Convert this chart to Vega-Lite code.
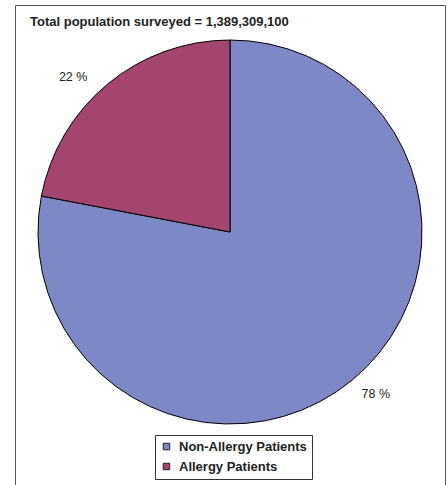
{
  "$schema": "https://vega.github.io/schema/vega-lite/v6.json",
  "width": 430,
  "height": 480,
  "autosize": {"type": "none"},
  "padding": {"left": 15, "top": 5, "right": 3, "bottom": 0},
  "background": "white",
  "config": {
    "font": "Liberation Sans"
  },
  "view": {"stroke": "#555555", "strokeWidth": 1},
  "title": {
    "text": "Total population surveyed = 1,389,309,100",
    "anchor": "start",
    "frame": "group",
    "orient": "top",
    "baseline": "alphabetic",
    "offset": 0,
    "dx": 15,
    "dy": 34,
    "font": "Liberation Sans",
    "fontSize": 13,
    "fontWeight": "bold",
    "color": "#222222"
  },
  "data": {
    "values": [
      {"category": "Non-Allergy Patients", "value": 78},
      {"category": "Allergy Patients", "value": 22}
    ]
  },
  "transform": [
    {"calculate": "datum.value + ' %'", "as": "label"},
    {
      "stack": "value",
      "groupby": [],
      "sort": [{"field": "category", "order": "descending"}],
      "as": ["v0", "v1"]
    },
    {"calculate": "(datum.v0 + datum.v1) / 2", "as": "vmid"}
  ],
  "layer": [
    {
      "mark": {
        "type": "arc",
        "outerRadius": 192,
        "y": {"expr": "height/2 - 13"},
        "stroke": "black",
        "strokeWidth": 1
      },
      "encoding": {
        "theta": {"field": "v0", "type": "quantitative", "scale": {"domain": [0, 100]}},
        "theta2": {"field": "v1"},
        "color": {
          "field": "category",
          "type": "nominal",
          "scale": {
            "domain": ["Non-Allergy Patients", "Allergy Patients"],
            "range": ["#7F88C7", "#A3456F"]
          },
          "legend": {
            "title": null,
            "orient": "none",
            "legendX": 140,
            "legendY": 430,
            "direction": "vertical",
            "strokeColor": "#333333",
            "padding": 5,
            "symbolType": "square",
            "symbolSize": 42,
            "symbolStrokeColor": "#222222",
            "symbolStrokeWidth": 1,
            "labelFont": "Liberation Sans",
            "labelFontSize": 13,
            "labelFontWeight": "bold",
            "labelColor": "#222222",
            "labelOffset": 6,
            "rowPadding": 6
          }
        }
      }
    },
    {
      "transform": [{"filter": "datum.category === 'Allergy Patients'"}],
      "mark": {
        "type": "text",
        "radius": 221,
        "y": {"expr": "height/2 - 13"},
        "dx": -16,
        "dy": 15,
        "font": "Liberation Sans",
        "fontSize": 12.5,
        "fill": "#222222",
        "align": "center",
        "baseline": "middle"
      },
      "encoding": {
        "theta": {"field": "vmid", "type": "quantitative", "scale": {"domain": [0, 100]}, "stack": null},
        "text": {"field": "label", "type": "nominal"}
      }
    },
    {
      "transform": [{"filter": "datum.category === 'Non-Allergy Patients'"}],
      "mark": {
        "type": "text",
        "radius": 221,
        "y": {"expr": "height/2 - 13"},
        "dx": 5,
        "dy": -8,
        "font": "Liberation Sans",
        "fontSize": 12.5,
        "fill": "#222222",
        "align": "center",
        "baseline": "middle"
      },
      "encoding": {
        "theta": {"field": "vmid", "type": "quantitative", "scale": {"domain": [0, 100]}, "stack": null},
        "text": {"field": "label", "type": "nominal"}
      }
    }
  ]
}
